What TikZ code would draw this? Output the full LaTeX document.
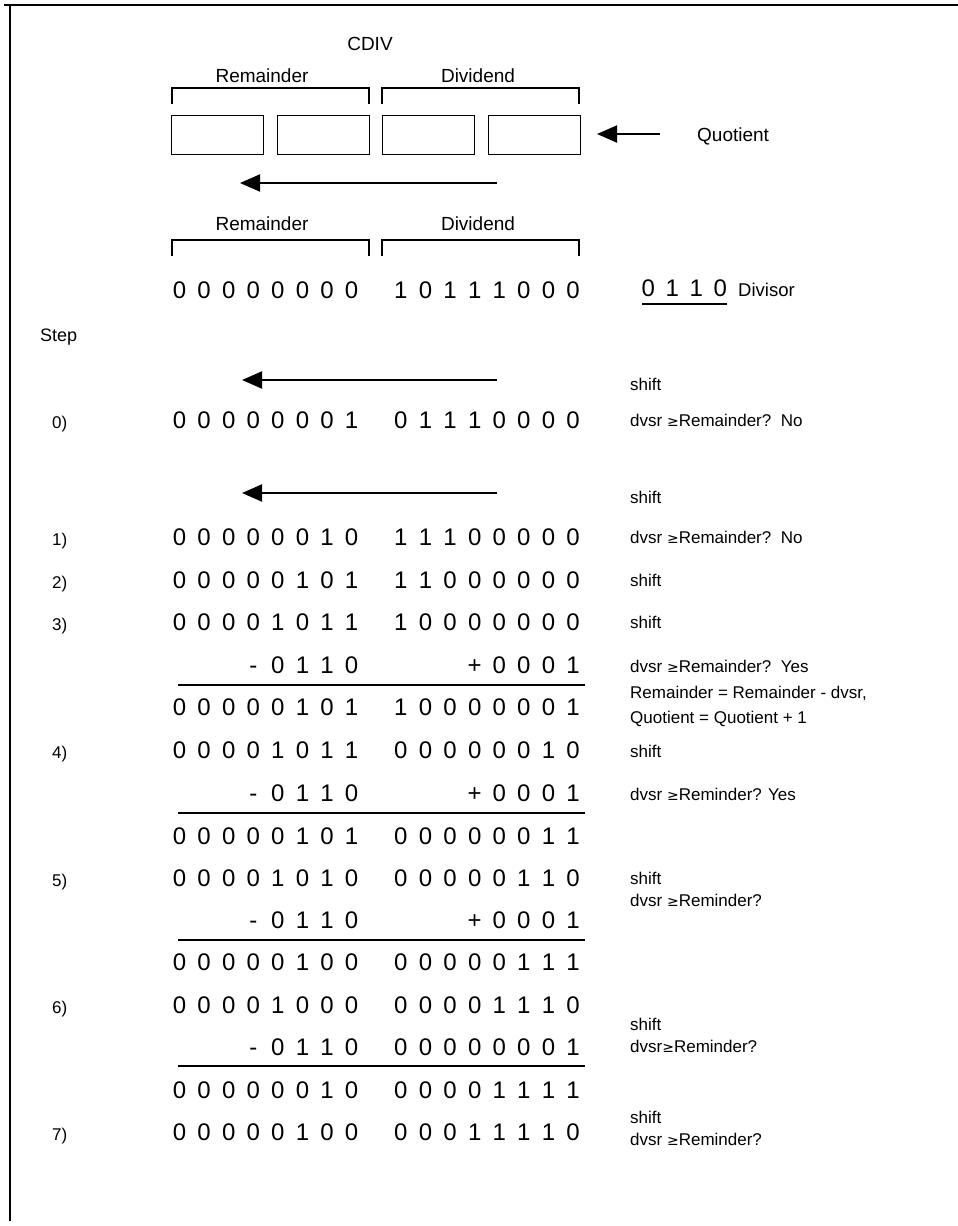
\documentclass[tikz,border=0pt]{standalone}
\usepackage{fontspec}
\setmainfont{Liberation Sans}
\newfontfamily\symfont{DejaVu Sans}
\usetikzlibrary{arrows.meta}
\newlength\pitch \setlength\pitch{24.6pt}
\newcommand\dg[1]{\makebox[\pitch][c]{#1}}
\def\bits#1{\bitsi#1\relax}
\def\bitsi#1{\ifx#1\relax\else\dg{#1}\expandafter\bitsi\fi}
\newcommand\gesym{{\symfont\fontsize{14}{14}\selectfont ≥}}
\begin{document}
\begin{tikzpicture}[x=1pt,y=-1pt,
  digits/.style={anchor=base west, inner sep=0, font=\fontsize{24}{24}\selectfont},
  lab/.style={anchor=base, inner sep=0, font=\fontsize{19}{19}\selectfont},
  note/.style={anchor=base west, inner sep=0, font=\fontsize{17}{17}\selectfont},
  stepl/.style={anchor=base west, inner sep=0, font=\fontsize{17}{17}\selectfont},
  reg/.style={draw, line width=1.3pt, minimum width=92pt, minimum height=39pt, inner sep=0, anchor=north west},
  brk/.style={line width=1.2pt},
  arr/.style={line width=2pt, -{Triangle[length=20pt,width=17pt]}},
  sumline/.style={line width=2pt},
  frame/.style={line width=2pt}]
\useasboundingbox (0,0) rectangle (958,1226);
% frame
\coordinate (ftl) at (9.5,5); \coordinate (ftr) at (958,5); \coordinate (fbl) at (9.5,1221);
\draw[frame] (4,5) -- (ftr);
\draw[frame] (ftl) -- (fbl);

% CDIV register
\node[lab] (cdiv) at (370,50) {CDIV};
\node[lab] (rem1) at (262,82) {Remainder};
\node[lab] (div1) at (478,82) {Dividend};
\draw[brk] (172,104) -- (172,88) -- (369,88) -- (369,104);
\draw[brk] (382,104) -- (382,88) -- (579,88) -- (579,104);
\node[reg] (b1) at (171,115) {};
\node[reg] (b2) at (277,115) {};
\node[reg] (b3) at (382,115) {};
\node[reg] (b4) at (488,115) {};
\node[note, font=\fontsize{19}{19}\selectfont] (quot) at (697,141) {Quotient};
\coordinate (qtail) at (660,134); \coordinate (qtip) at (597,134);
\draw[arr] (qtail) -- (qtip);
\coordinate (a1t) at (497,183); \coordinate (a1h) at (240,183);
\draw[arr] (a1t) -- (a1h);

\node[lab] (rem2) at (262,230) {Remainder};
\node[lab] (div2) at (478,230) {Dividend};
\draw[brk] (172,256) -- (172,240) -- (369,240) -- (369,256);
\draw[brk] (382,256) -- (382,240) -- (579,240) -- (579,256);

% initial
\node[digits] (i1) at (167,298) {\bits{00000000}};
\node[digits] (i2) at (388.4,298) {\bits{10111000}};
\node[digits] (dvs) at (636,296) {\setlength\pitch{24pt}\bits{0110}};
\coordinate (ul1) at (642,304); \coordinate (ul2) at (727,304);
\draw[line width=1.3pt] (ul1) -- (ul2);
\node[note, font=\fontsize{18.5}{19}\selectfont] (dvsl) at (738,296) {Divisor};

\node[stepl, font=\fontsize{18}{18}\selectfont] (step) at (40,341) {Step};

% step 0
\coordinate (a2t) at (497,380); \coordinate (a2h) at (242,380);
\draw[arr] (a2t) -- (a2h);
\node[note] (n0a) at (630,390) {shift};
\node[stepl] (s0) at (52,428) {0)};
\node[digits] (r0a) at (167,428) {\bits{00000001}};
\node[digits] (r0b) at (388.4,428) {\bits{01110000}};
\node[note] (n0b) at (630,426) {dvsr \gesym Remainder?\ \ No};

% step 1
\coordinate (a3t) at (497,493); \coordinate (a3h) at (242,493);
\draw[arr] (a3t) -- (a3h);
\node[note] (n1a) at (630,503) {shift};
\node[stepl] (s1) at (52,545) {1)};
\node[digits] (r1a) at (167,545) {\bits{00000010}};
\node[digits] (r1b) at (388.4,545) {\bits{11100000}};
\node[note] (n1b) at (630,543) {dvsr \gesym Remainder?\ \ No};

% step 2
\node[stepl] (s2) at (52,588) {2)};
\node[digits] (r2a) at (167,588) {\bits{00000101}};
\node[digits] (r2b) at (388.4,588) {\bits{11000000}};
\node[note] (n2a) at (630,586) {shift};

% step 3
\node[stepl] (s3) at (52,630) {3)};
\node[digits] (r3a) at (167,630) {\bits{00001011}};
\node[digits] (r3b) at (388.4,630) {\bits{10000000}};
\node[note] (n3a) at (630,628) {shift};
\node[digits] (m3a) at (240.8,673) {\bits{-0110}};
\node[digits] (m3b) at (462.2,673) {\bits{+0001}};
\node[note] (n3b) at (630,672) {dvsr \gesym Remainder?\ \ Yes};
\coordinate (l3a) at (178,685); \coordinate (l3b) at (585,685);
\draw[sumline] (l3a) -- (l3b);
\node[digits] (q3a) at (167,715) {\bits{00000101}};
\node[digits] (q3b) at (388.4,715) {\bits{10000001}};
\node[note] (n3c) at (630,698) {Remainder = Remainder - dvsr,};
\node[note] (n3d) at (630,723) {Quotient = Quotient + 1};

% step 4
\node[stepl] (s4) at (52,758) {4)};
\node[digits] (r4a) at (167,758) {\bits{00001011}};
\node[digits] (r4b) at (388.4,758) {\bits{00000010}};
\node[note] (n4a) at (630,757) {shift};
\node[digits] (m4a) at (240.8,801) {\bits{-0110}};
\node[digits] (m4b) at (462.2,801) {\bits{+0001}};
\node[note] (n4b) at (630,800) {dvsr \gesym Reminder? Yes};
\coordinate (l4a) at (178,813); \coordinate (l4b) at (585,813);
\draw[sumline] (l4a) -- (l4b);
\node[digits] (q4a) at (167,844) {\bits{00000101}};
\node[digits] (q4b) at (388.4,844) {\bits{00000011}};

% step 5
\node[stepl] (s5) at (52,886) {5)};
\node[digits] (r5a) at (167,886) {\bits{00001010}};
\node[digits] (r5b) at (388.4,886) {\bits{00000110}};
\node[note] (n5a) at (630,884) {shift};
\node[note] (n5b) at (630,906) {dvsr \gesym Reminder?};
\node[digits] (m5a) at (240.8,928) {\bits{-0110}};
\node[digits] (m5b) at (462.2,928) {\bits{+0001}};
\coordinate (l5a) at (178,940); \coordinate (l5b) at (585,940);
\draw[sumline] (l5a) -- (l5b);
\node[digits] (q5a) at (167,970) {\bits{00000100}};
\node[digits] (q5b) at (388.4,970) {\bits{00000111}};

% step 6
\node[stepl] (s6) at (52,1013) {6)};
\node[digits] (r6a) at (167,1013) {\bits{00001000}};
\node[digits] (r6b) at (388.4,1013) {\bits{00001110}};
\node[note] (n6a) at (630,1030) {shift};
\node[note] (n6b) at (630,1052) {dvsr\gesym Reminder?};
\node[digits] (m6a) at (240.8,1055) {\bits{-0110}};
\node[digits] (m6b) at (388.4,1055) {\bits{00000001}};
\coordinate (l6a) at (178,1066); \coordinate (l6b) at (585,1066);
\draw[sumline] (l6a) -- (l6b);
\node[digits] (q6a) at (167,1098) {\bits{00000010}};
\node[digits] (q6b) at (388.4,1098) {\bits{00001111}};

% step 7
\node[stepl] (s7) at (52,1140) {7)};
\node[digits] (r7a) at (167,1140) {\bits{00000100}};
\node[digits] (r7b) at (388.4,1140) {\bits{00011110}};
\node[note] (n7a) at (630,1123) {shift};
\node[note] (n7b) at (630,1145) {dvsr \gesym Reminder?};
\end{tikzpicture}
\end{document}
